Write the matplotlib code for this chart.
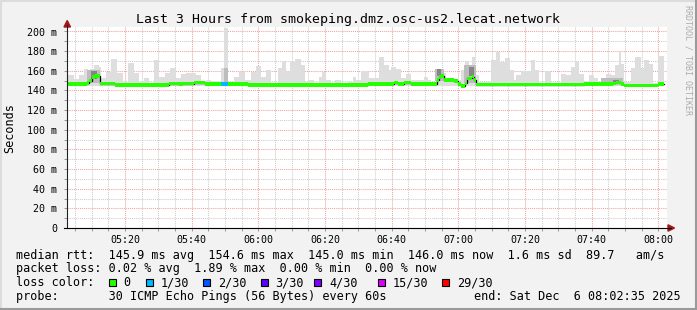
import matplotlib
matplotlib.use('Agg')
import matplotlib.pyplot as plt
from matplotlib.patches import Rectangle, Polygon
from matplotlib.lines import Line2D
import numpy as np

W, H = 697, 310

# time axis in minutes after 05:00, graph covers 05:02:35 .. 08:02:35
t_start = 2 + 35 / 60
t_end = t_start + 180
data_end = 181.8

# smoke: highest ping per step (start minute, ms)
smoke_t = [2.6, 4.7, 6.3, 7.8, 8.8, 9.5, 10.8, 12.3, 12.8, 14.3, 15.8, 17.5, 19.3, 20.8,
           22.8, 24.3, 25.8, 27.1, 28.8, 30.3, 32.1, 33.5, 35.3, 36.8, 38.3, 39.8, 41.3,
           42.8, 44.3, 45.8, 47.3, 48.8, 49.8, 50.9, 52.8, 54.1, 56.1, 57.8, 59.3, 60.8,
           62.3, 63.8, 65.8, 67.1, 68.3, 69.5, 71.1, 72.8, 74.1, 75.3, 76.8, 78.1, 79.1,
           80.3, 81.8, 83.1, 84.8, 86.8, 88.3, 89.3, 90.8, 92.3, 93.3, 96.3, 97.8, 99.1,
           99.8, 101.3, 102.8, 104.3, 105.8, 109.8, 110.8, 111.8, 113.3, 114.8, 116.3,
           120.8, 122.1, 123.1, 124.1, 125.1, 126.3, 129.8, 131.3, 132.6, 134.1, 135.5,
           136.8, 137.3, 138.8, 141.8, 143.1, 144.1, 146.1, 147.8, 150.8, 152.3, 153.8,
           155.1, 156.3, 157.8, 159.3, 160.8, 161.8, 164.3, 165.8, 167.1, 168.1, 168.8,
           169.8, 171.8, 173.1, 174.8, 175.8, 177.3, 178.3, 179.8]
smoke_top = [155.7, 151.3, 155.7, 161.5, 159.1, 161.5, 165.9, 164.2, 152.3, 159.1, 171.7,
             157.4, 148.9, 168.3, 157.4, 148.9, 152.3, 147.2, 171.0, 153.3, 158.1, 162.5,
             152.3, 156.7, 157.4, 158.1, 155.7, 148.9, 150.6, 148.9, 147.2, 162.5, 204.0,
             147.2, 153.3, 159.1, 150.6, 159.1, 164.9, 153.3, 160.8, 147.2, 162.5, 170.3,
             159.1, 169.3, 171.7, 165.9, 148.9, 150.6, 147.9, 154.0, 159.1, 150.6, 147.2,
             150.6, 147.2, 148.9, 154.0, 150.6, 160.1, 159.1, 152.3, 173.7, 165.9, 160.8,
             164.2, 161.5, 152.3, 156.7, 150.6, 153.3, 150.6, 148.9, 160.8, 157.4, 150.6,
             160.8, 170.3, 164.2, 173.7, 155.7, 148.9, 171.0, 179.5, 169.3, 172.7, 160.8,
             150.6, 155.7, 160.1, 171.0, 160.8, 147.2, 160.1, 147.2, 156.7, 155.7, 164.2,
             170.3, 156.7, 147.2, 155.7, 152.3, 148.9, 156.7, 155.7, 165.9, 179.5, 166.9,
             148.9, 162.5, 173.7, 162.5, 171.0, 166.9, 147.2, 175.0]
smoke_floor = 145.0

# denser smoke near the median: start, end, low, high
mid_smoke = [(8.5, 12.6, 148.0, 161.0), (49.8, 50.9, 147.0, 163.0),
             (113.0, 115.8, 150.0, 162.0), (121.8, 125.3, 148.0, 166.0),
             (162.8, 169.5, 146.5, 153.0)]
dark_smoke = [(9.8, 11.6, 152.0, 160.0), (113.5, 114.8, 155.0, 161.5),
              (123.1, 124.8, 155.0, 164.0), (166.3, 168.1, 148.0, 151.0)]

# median rtt per step (start minute, ms)
med_t = [2.6, 8.5, 9.3, 10.1, 11.1, 12.6, 17.1, 33.3, 36.3, 37.3, 40.8, 44.1, 56.8,
         92.8, 100.8, 101.8, 103.8, 105.8, 113.5, 114.3, 114.8, 115.8, 118.8, 119.8,
         120.8, 122.1, 122.7, 124.1, 124.8, 125.3, 157.8, 166.3, 167.3, 168.8, 169.8,
         179.8]
med_v = [146.5, 147.5, 150.0, 153.5, 154.5, 147.0, 145.5, 147.0, 146.5, 147.0, 148.0,
         146.8, 145.3, 146.6, 148.0, 146.6, 148.0, 146.6, 150.5, 153.8, 154.5, 150.6,
         149.6, 146.6, 144.6, 147.2, 152.3, 154.0, 150.5, 145.9, 146.6, 147.2, 148.0,
         146.6, 145.2, 146.6]

# packet loss steps (start minute, lost pings of 30)
loss_t = [2.6, 48.8, 50.8]
loss_n = [0, 1, 0]

loss_levels = ['0', '1/30', '2/30', '3/30', '4/30', '15/30', '29/30']
loss_colors = ['#26ff00', '#00b8ff', '#0059ff', '#5e00ff', '#7e00ff', '#dd00ff', '#ff0000']

legend_lines = [
    'median rtt:  145.9 ms avg  154.6 ms max  145.0 ms min  146.0 ms now  1.6 ms sd  89.7   am/s',
    'packet loss: 0.02 % avg  1.89 % max  0.00 % min  0.00 % now',
    'loss color:',
    'probe:       30 ICMP Echo Pings (56 Bytes) every 60s',
]
end_text = 'end: Sat Dec  6 08:02:35 2025'
title = 'Last 3 Hours from smokeping.dmz.osc-us2.lecat.network'

MONO = 'DejaVu Sans Mono'
BACK = '#f2f2f2'


def fx(x):
    return x / W


def fy(y):
    return 1 - y / H


fig = plt.figure(figsize=(W / 100, H / 100), dpi=100, facecolor=BACK)
ax = fig.add_axes([fx(67), fy(228), 600 / W, 201 / H])
ax.set_facecolor('white')
ax.set_xlim(t_start, t_end)
ax.set_ylim(0, 201 / 0.9825)

# smoke
sx = smoke_t + [data_end]
sy = smoke_top + [smoke_top[-1]]
ax.fill_between(sx, smoke_floor, sy, step='post', color='#dedede', lw=0, zorder=2)
for a, b, lo, hi in mid_smoke:
    ax.fill_between([a, b], lo, hi, color='#bdbdbd', lw=0, zorder=3)
for a, b, lo, hi in dark_smoke:
    ax.fill_between([a, b], lo, hi, color='#858585', lw=0, zorder=4)

# median line and loss-coloured band
mx = med_t + [data_end]
my = np.array(med_v + [med_v[-1]])
ax.step(mx, my, where='post', color='black', lw=0.9, zorder=5)
half = 1.8
ax.fill_between(mx, my - half, my + half, step='post', color=loss_colors[0], lw=0, zorder=6)
for i, n in enumerate(loss_n):
    if n == 0:
        continue
    a = loss_t[i]
    b = loss_t[i + 1] if i + 1 < len(loss_t) else data_end
    v = med_v[np.searchsorted(med_t, a, side='right') - 1]
    ax.fill_between([a, b], v - half, v + half, color=loss_colors[n], lw=0, zorder=7)

# grid
ax.set_xticks(np.arange(20, 181, 20))
ax.set_xticks(np.arange(5, 183, 5), minor=True)
ax.set_xticklabels(['%02d:%02d' % (5 + int(m) // 60, int(m) % 60) for m in np.arange(20, 181, 20)])
ax.set_yticks(np.arange(0, 201, 20))
ax.set_yticks(np.arange(10, 201, 10), minor=True)
ax.set_yticklabels(['0'] + ['%d m' % v for v in range(20, 201, 20)])
ax.set_axisbelow(True)
ax.grid(which='minor', color='#cccccc', linestyle=(0, (1, 1)), lw=0.75)
ax.grid(which='major', color='#f2a0a0', linestyle=(0, (1, 1)), lw=0.75)
ax.tick_params(which='both', length=2, width=0.7, labelsize=7.2, pad=3, color='#999999')
ax.tick_params(axis='y', pad=5)
for lab in ax.get_xticklabels() + ax.get_yticklabels():
    lab.set_family(MONO)
for s in ['top', 'right', 'left', 'bottom']:
    ax.spines[s].set_visible(False)

# axes with arrows
fig.add_artist(Line2D([fx(67), fx(67)], [fy(228), fy(25)], color='#222222', lw=0.8))
fig.add_artist(Line2D([fx(64), fx(671)], [fy(228), fy(228)], color='black', lw=0.8))
fig.add_artist(Polygon([(fx(64), fy(27)), (fx(70.5), fy(27)), (fx(67.2), fy(20.5))],
                       closed=True, color='#a01818', transform=fig.transFigure))
fig.add_artist(Polygon([(fx(668), fy(224.8)), (fx(668), fy(231.2)), (fx(674.5), fy(228))],
                       closed=True, color='#a01818', transform=fig.transFigure))

# texts
fig.text(fx(347.5), fy(19), title, ha='center', va='center', fontsize=9.5, family=MONO)
fig.text(fx(10), fy(128), 'Seconds', rotation=90, ha='center', va='center',
         fontsize=8.5, family=MONO)
fig.text(fx(688), fy(5), 'RRDTOOL / TOBI OETIKER', rotation=270, ha='center', va='top',
         fontsize=6.0, family=MONO, color='#acacac')

rows_y = [255, 268.5, 282.5, 296.5]
for txt, y in zip(legend_lines, rows_y):
    fig.text(fx(16), fy(y), txt, ha='left', va='center', fontsize=8.5, family=MONO)
fig.text(fx(681), fy(rows_y[3]), end_text, ha='right', va='center', fontsize=8.5, family=MONO)

box_x = [108.7, 146.0, 203.3, 261.0, 314.3, 378.3, 442.3]
label_x = [123.0, 160.5, 218.0, 275.5, 329.0, 392.5, 457.0]
for bx, lx, c, lab in zip(box_x, label_x, loss_colors, loss_levels):
    fig.add_artist(Rectangle((fx(bx), fy(286.3)), 7 / W, 7 / H, transform=fig.transFigure,
                             facecolor=c, edgecolor='black', lw=0.8))
    fig.text(fx(lx), fy(rows_y[2]), lab, ha='left', va='center', fontsize=8.5, family=MONO)

# bevelled frame
fig.add_artist(Line2D([fx(0.5), fx(0.5)], [fy(0), fy(310)], color='#dcdcdc', lw=1.5))
fig.add_artist(Line2D([fx(0), fx(697)], [fy(0.5), fy(0.5)], color='#dcdcdc', lw=1.5))
fig.add_artist(Line2D([fx(696.3), fx(696.3)], [fy(0), fy(310)], color='#9a9a9a', lw=1.5))
fig.add_artist(Line2D([fx(0), fx(697)], [fy(309.3), fy(309.3)], color='#9a9a9a', lw=1.5))

fig.savefig('out.png', dpi=100, facecolor=BACK)
